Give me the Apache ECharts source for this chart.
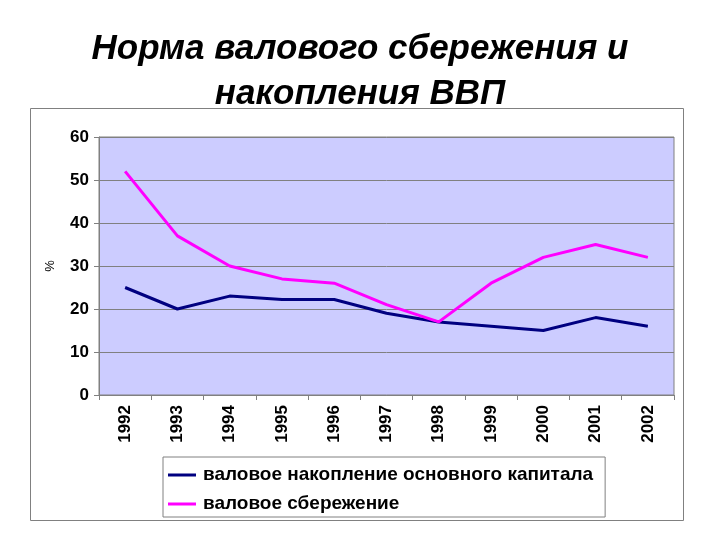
<!DOCTYPE html>
<html><head><meta charset="utf-8">
<script src="https://cdn.jsdelivr.net/npm/echarts@6/dist/echarts.min.js"></script>
<style>html,body{margin:0;padding:0;background:#fff}#c{width:720px;height:540px}</style>
</head><body><div id="c"></div>
<script>
var years = ['1992','1993','1994','1995','1996','1997','1998','1999','2000','2001','2002'];
var accumulation = [25, 20, 23, 22.2, 22.2, 19, 17, 16, 15, 18, 16];
var saving = [52, 37, 30, 27, 26, 21, 17, 26, 32, 35, 32];
var seriesNames = ['валовое накопление основного капитала', 'валовое сбережение'];
var titleText = 'Норма валового сбережения и\nнакопления ВВП';

var chart = echarts.init(document.getElementById('c'), null, {renderer: 'canvas'});
chart.setOption({
  animation: false,
  backgroundColor: '#fff',
  title: {
    text: titleText, left: 'center', top: 22,
    textStyle: {fontFamily: 'Liberation Sans', fontSize: 35, fontWeight: 'bold', fontStyle: 'italic', color: '#000', lineHeight: 45}
  },
  graphic: [{
    type: 'rect', shape: {x: 30.5, y: 108.5, width: 653, height: 412},
    style: {fill: null, stroke: '#808080', lineWidth: 1}, z: -1
  }],
  grid: {left: 99, right: 46, top: 137, bottom: 145, show: true, backgroundColor: '#ccccff', borderColor: '#808080', borderWidth: 1},
  legend: {
    orient: 'vertical', left: 163, top: 457,
    padding: [7, 12, 2, 5], itemGap: 7,
    borderColor: '#808080', borderWidth: 1, backgroundColor: '#fff',
    icon: 'rect', itemWidth: 28, itemHeight: 3, itemStyle: {borderWidth: 0},
    textStyle: {fontFamily: 'Liberation Sans', fontSize: 19, lineHeight: 22, fontWeight: 'bold', color: '#000', padding: [0, 0, 0, 2]},
    data: seriesNames
  },
  xAxis: {
    type: 'category', data: years, boundaryGap: true,
    axisLine: {lineStyle: {color: '#808080'}},
    axisTick: {show: true, length: 5, lineStyle: {color: '#808080'}},
    axisLabel: {rotate: 90, margin: 10, fontFamily: 'Liberation Sans', fontSize: 17, fontWeight: 'bold', color: '#000'}
  },
  yAxis: {
    type: 'value', min: 0, max: 60, interval: 10,
    name: '%', nameLocation: 'middle', nameGap: 42, nameRotate: 90,
    nameTextStyle: {fontFamily: 'Liberation Sans', fontSize: 13, color: '#000'},
    axisLine: {show: true, lineStyle: {color: '#808080'}},
    axisTick: {show: true, length: 5, lineStyle: {color: '#808080'}},
    splitLine: {lineStyle: {color: '#808080', width: 1}},
    axisLabel: {margin: 10, fontFamily: 'Liberation Sans', fontSize: 17, fontWeight: 'bold', color: '#000'}
  },
  series: [
    {name: seriesNames[0], type: 'line', data: accumulation, symbol: 'none', lineStyle: {color: '#000080', width: 3}, itemStyle: {color: '#000080'}},
    {name: seriesNames[1], type: 'line', data: saving, symbol: 'none', lineStyle: {color: '#ff00ff', width: 3}, itemStyle: {color: '#ff00ff'}}
  ]
});
</script></body></html>
